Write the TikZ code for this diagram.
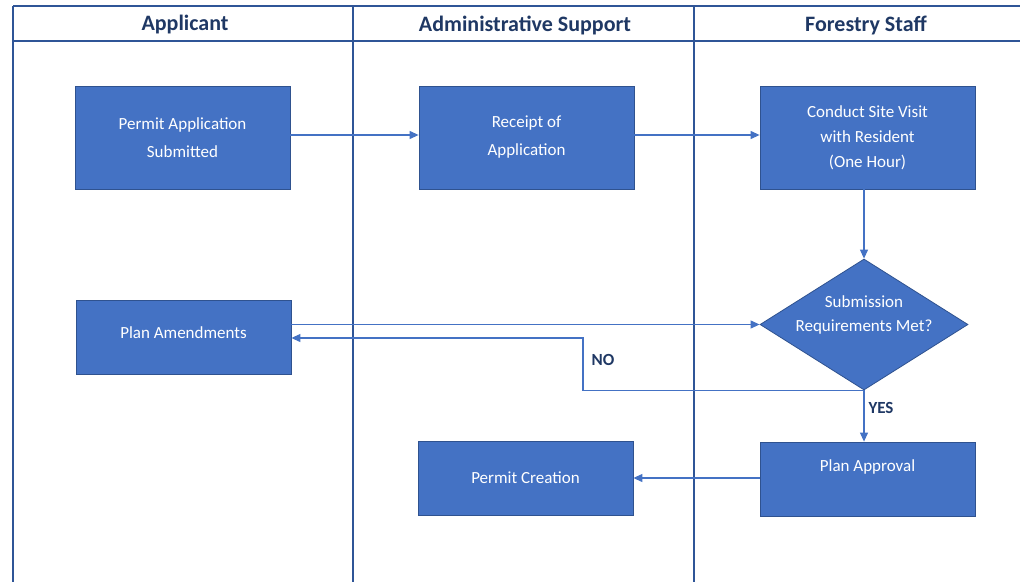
\documentclass[tikz,border=0pt]{standalone}
\usepackage{fontspec}
\setmainfont{Carlito}
\usetikzlibrary{shapes.geometric,arrows.meta}
\definecolor{boxblue}{HTML}{4472C4}
\definecolor{boxedge}{HTML}{2F528F}
\definecolor{lanecol}{HTML}{2F5597}
\definecolor{headtext}{HTML}{1F3864}
\tikzset{
  lane/.style={draw=lanecol, line width=2.6pt},
  headlbl/.style={text=headtext, font=\bfseries\fontsize{22}{26}\selectfont, inner sep=0pt},
  procbox/.style={draw=boxedge, line width=0.8pt, fill=boxblue, text=white,
    minimum width=215pt, minimum height=103pt, align=center,
    font=\fontsize{17}{27}\selectfont, inner sep=0pt},
  shortbox/.style={procbox, minimum height=74pt},
  decision/.style={diamond, draw=boxedge, line width=0.8pt, fill=boxblue,
    aspect=1.6, minimum width=208pt, minimum height=131pt, inner sep=0pt},
  flow/.style={draw=boxblue, line width=1.1pt, -{Triangle[length=9pt,width=8pt]}},
  flowlbl/.style={text=headtext, font=\bfseries\fontsize{17}{20}\selectfont, inner sep=0pt}
}
\begin{document}
\begin{tikzpicture}[x=1pt,y=-1pt]
\useasboundingbox (0,0) rectangle (1020,581);
% swimlanes
\draw[lane] (13,6) -- (1021,6);
\draw[lane] (13,41) -- (1021,41);
\draw[lane] (13,6) -- (13,582);
\draw[lane] (353,6) -- (353,582);
\draw[lane] (694,6) -- (694,582);
\node[headlbl] (h1) at (185,25) {Applicant};
\node[headlbl] (h2) at (525,25) {Administrative Support};
\node[headlbl] (h3) at (866,25) {Forestry Staff};
% nodes
\node[procbox, font=\fontsize{17}{28}\selectfont] (permit) at (182.5,137.5) {Permit Application\\Submitted};
\node[procbox, font=\fontsize{17}{28}\selectfont] (receipt) at (526.5,137.5) {Receipt of\\Application};
\node[procbox, font=\fontsize{17}{25}\selectfont] (visit) at (867.5,137.5) {Conduct Site Visit\\with Resident\\(One Hour)};
\node[decision, label={[text=white, align=center, font=\fontsize{17}{24}\selectfont, yshift=10pt]center:Submission\\Requirements Met?}] (dec) at (864,324.5) {};
\node[shortbox, label={[text=white, font=\fontsize{17}{20}\selectfont, yshift=5pt]center:Plan Amendments}] (amend) at (183.5,337.5) {};
\node[shortbox] (create) at (525.5,478) {Permit Creation};
\node[shortbox, label={[text=white, font=\fontsize{17}{20}\selectfont, yshift=12pt]center:Plan Approval}] (approve) at (867.5,479) {};
% connectors
\draw[flow] (permit.east |- 0,135) -- (receipt.west |- 0,135);
\draw[flow] (receipt.east |- 0,135) -- (visit.west |- 0,135);
\draw[flow] (visit.south -| dec.north) -- (dec.north);
\draw[flow] (amend.east |- dec.west) -- (dec.west);
\draw[flow] (dec.south) -- ++(-281,0) |- (amend.east |- 0,338);
\draw[flow] (dec.south) -- (dec.south |- approve.north);
\draw[flow] (approve.west |- create.east) -- (create.east);
\node[flowlbl] (no) at (603,360) {NO};
\node[flowlbl] (yes) at (881,408) {YES};
\end{tikzpicture}
\end{document}
